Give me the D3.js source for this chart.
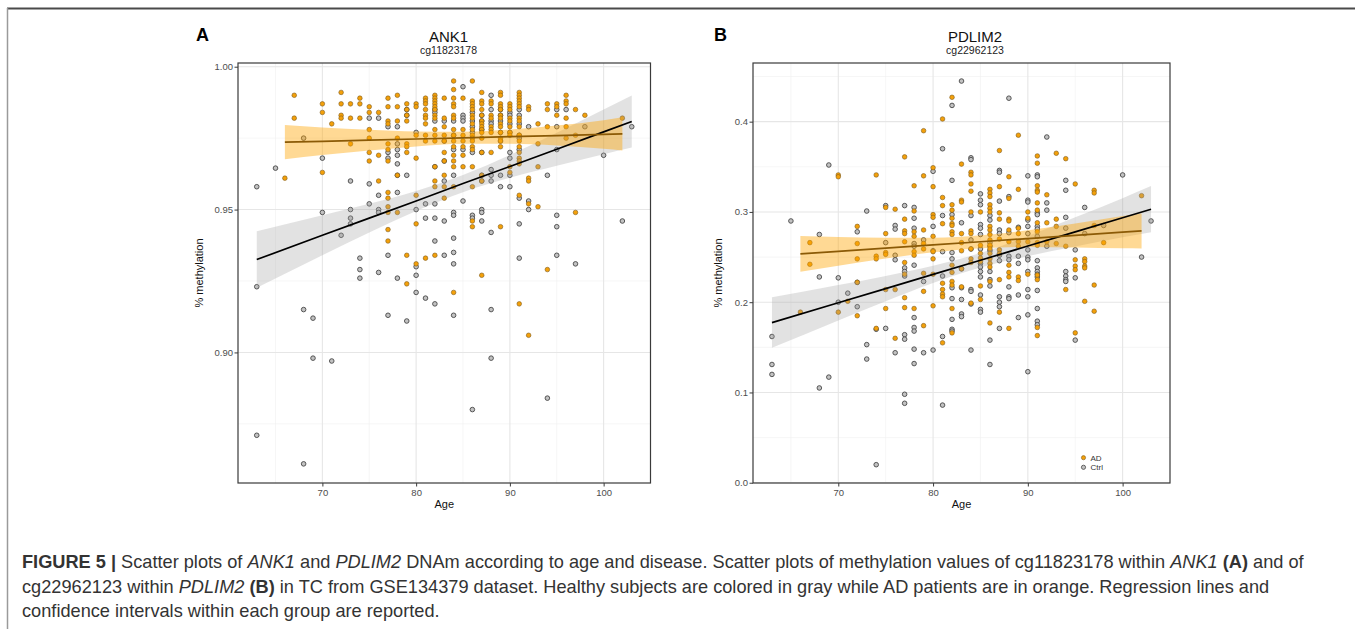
<!DOCTYPE html>
<html>
<head>
<meta charset="utf-8">
<script src="https://cdn.jsdelivr.net/npm/d3@7"></script>
<style>
  body { margin: 0; background: #fff; }
  text { font-family: "Liberation Sans", Arial, Helvetica, sans-serif; }
</style>
</head>
<body>
<script>
// ---- data ----
// panel A: ANK1 cg11823178, [age, methylation]
const ank1AD = [
  [66,.961],[67,.990],[67,.982],[70,.987],[70,.984],[70,.963],[71,.980],
  [72,.991],[72,.987],[72,.983],[72,.982],[73,.987],[73,.982],[73,.973],
  [74,.989],[74,.987],[74,.982],[75,.986],[75,.984],[75,.978],[75,.975],[75,.970],[75,.967],
  [76,.984],[76,.969],[76,.960],
  [77,.989],[77,.986],[77,.981],[77,.980],[77,.973],[77,.971],[77,.967],[77,.956],[77,.954],[77,.951],[77,.949],[77,.943],[77,.939],
  [78,.990],[78,.986],[78,.981],[78,.975],[78,.962],[78,.949],
  [79,.987],[79,.985],[79,.983],[79,.981],[79,.973],[79,.972],[79,.970],[79,.934],[79,.924],
  [80,.987],[80,.986],[80,.976],[80,.968],[80,.955],[80,.945],[80,.931],
  [81,.989],[81,.988],[81,.987],[81,.985],[81,.983],[81,.982],[81,.980],[81,.976],[81,.974],[81,.933],
  [82,.990],[82,.989],[82,.988],[82,.987],[82,.986],[82,.985],[82,.983],[82,.982],[82,.978],[82,.976],[82,.974],[82,.965],[82,.960],[82,.958],[82,.934],
  [83,.989],[83,.982],[83,.979],[83,.976],[83,.974],[83,.970],[83,.967],[83,.962],[83,.958],[83,.954],
  [84,.995],[84,.992],[84,.989],[84,.987],[84,.986],[84,.983],[84,.982],[84,.978],[84,.976],[84,.974],[84,.972],[84,.969],[84,.967],[84,.965],[84,.958],[84,.921],
  [85,.989],[85,.978],[85,.976],[85,.974],[85,.972],[85,.969],[85,.965],
  [86,.995],[86,.988],[86,.987],[86,.986],[86,.985],[86,.983],[86,.982],[86,.980],[86,.978],[86,.976],[86,.975],[86,.974],[86,.972],[86,.971],[86,.965],[86,.958],[86,.946],[86,.944],
  [87,.991],[87,.988],[87,.987],[87,.985],[87,.983],[87,.981],[87,.980],[87,.979],[87,.978],[87,.977],[87,.975],[87,.970],[87,.962],[87,.960],[87,.927],
  [88,.988],[88,.987],[88,.983],[88,.982],[88,.979],[88,.978],[88,.977],[88,.970],
  [89,.991],[89,.990],[89,.987],[89,.986],[89,.985],[89,.983],[89,.982],[89,.980],[89,.979],[89,.977],[89,.975],[89,.974],[89,.972],[89,.944],
  [90,.987],[90,.986],[90,.985],[90,.982],[90,.981],[90,.979],[90,.977],[90,.976],[90,.965],[90,.963],
  [91,.991],[91,.990],[91,.989],[91,.988],[91,.987],[91,.986],[91,.982],[91,.981],[91,.979],[91,.976],[91,.974],[91,.972],[91,.970],[91,.968],[91,.967],[91,.966],[91,.955],[91,.917],
  [92,.986],[92,.985],[92,.961],[92,.960],[92,.952],[92,.906],
  [93,.980],[93,.973],[93,.965],[93,.951],
  [94,.987],[94,.985],[94,.979],[94,.929],
  [95,.987],[95,.986],[95,.983],
  [96,.990],[96,.988],[96,.987],[96,.982],[96,.979],[96,.975],
  [97,.985],[97,.976],[97,.949],[98,.983],[102,.982]
];
const ank1Ctrl = [
  [63,.958],[63,.923],[63,.871],[65,.9645],[68,.975],[68,.915],[68,.861],[69,.912],[69,.898],
  [70,.968],[70,.949],[71,.897],[72,.941],[73,.960],[73,.950],[73,.947],[73,.945],
  [74,.933],[74,.929],[74,.926],[75,.982],[75,.959],[75,.952],
  [76,.982],[76,.955],[76,.950],[76,.949],[76,.928],
  [77,.979],[77,.970],[77,.968],[77,.934],[77,.913],
  [78,.979],[78,.973],[78,.971],[78,.969],[78,.966],[78,.962],[78,.956],[78,.926],
  [79,.985],[79,.983],[79,.962],[79,.911],
  [80,.977],[80,.950],[80,.930],[80,.927],[80,.921],
  [81,.952],[81,.947],[81,.919],
  [82,.985],[82,.984],[82,.981],[82,.965],[82,.952],[82,.947],[82,.939],[82,.917],
  [83,.981],[83,.974],[83,.967],[83,.960],[83,.946],[83,.934],
  [84,.981],[84,.976],[84,.971],[84,.962],[84,.949],[84,.948],[84,.940],[84,.935],[84,.931],[84,.913],
  [85,.993],[85,.983],[85,.982],[85,.981],[85,.971],[85,.953],
  [86,.984],[86,.981],[86,.979],[86,.977],[86,.970],[86,.948],[86,.947],[86,.880],
  [87,.983],[87,.981],[87,.978],[87,.970],[87,.962],[87,.960],[87,.950],[87,.949],[87,.946],
  [88,.990],[88,.985],[88,.981],[88,.980],[88,.964],[88,.962],[88,.960],[88,.942],[88,.915],[88,.898],
  [89,.985],[89,.983],[89,.981],[89,.977],[89,.974],[89,.962],[89,.958],
  [90,.984],[90,.983],[90,.980],[90,.977],[90,.970],[90,.968],[90,.962],[90,.958],
  [91,.985],[91,.983],[91,.980],[91,.976],[91,.975],[91,.971],[91,.954],[91,.945],[91,.933],
  [92,.979],[92,.953],[92,.950],[94,.962],[94,.884],
  [95,.985],[95,.979],[95,.971],[95,.948],[95,.944],[95,.934],
  [96,.985],[97,.931],[98,.979],[100,.969],[102,.946],[103,.979]
];

// panel B: PDLIM2 cg22962123
const pdlim2AD = [
  [66,.189],[67,.266],[67,.242],[70,.341],[70,.339],[70,.189],[71,.201],
  [72,.284],[72,.265],[72,.248],[72,.222],[72,.185],
  [74,.341],[74,.251],[74,.248],[74,.171],
  [75,.305],[75,.276],[75,.255],[75,.253],[75,.214],[75,.193],
  [76,.303],[76,.214],[76,.160],
  [77,.361],[77,.292],[77,.279],[77,.276],[77,.267],[77,.244],[77,.231],[77,.205],[77,.194],
  [78,.329],[78,.301],[78,.278],[78,.273],[78,.256],[78,.252],[78,.193],
  [79,.390],[79,.340],[79,.280],[79,.265],[79,.259],[79,.232],[79,.212],[79,.174],
  [80,.349],[80,.328],[80,.297],[80,.294],[80,.273],[80,.256],[80,.248],[80,.231],[80,.196],
  [81,.403],[81,.316],[81,.307],[81,.287],[81,.221],[81,.214],[81,.209],[81,.206],[81,.155],
  [82,.427],[82,.308],[82,.302],[82,.293],[82,.287],[82,.285],[82,.278],[82,.275],[82,.241],[82,.233],[82,.223],[82,.219],[82,.193],[82,.166],
  [83,.353],[83,.313],[83,.311],[83,.276],[83,.266],[83,.257],[83,.237],[83,.217],
  [84,.344],[84,.341],[84,.331],[84,.323],[84,.300],[84,.279],[84,.276],[84,.259],[84,.248],[84,.244],[84,.199],
  [85,.300],[85,.263],[85,.254],[85,.249],[85,.245],[85,.218],[85,.203],
  [86,.325],[86,.321],[86,.317],[86,.308],[86,.304],[86,.300],[86,.284],[86,.280],[86,.275],[86,.269],[86,.263],[86,.259],[86,.254],[86,.248],[86,.243],[86,.239],[86,.223],[86,.177],
  [87,.368],[87,.328],[87,.299],[87,.292],[87,.270],[87,.258],[87,.254],[87,.225],[87,.189],
  [88,.339],[88,.315],[88,.292],[88,.290],[88,.280],[88,.267],[88,.241],[88,.233],[88,.228],[88,.171],
  [89,.385],[89,.325],[89,.282],[89,.276],[89,.267],[89,.262],[89,.228],[89,.224],
  [90,.300],[90,.293],[90,.267],[90,.231],
  [91,.362],[91,.354],[91,.329],[91,.324],[91,.322],[91,.310],[91,.302],[91,.288],[91,.278],[91,.266],[91,.263],[91,.230],[91,.225],[91,.172],[91,.163],
  [92,.319],[92,.288],[92,.267],[93,.365],[93,.292],[93,.284],[93,.265],
  [94,.359],[94,.262],[94,.214],[95,.331],[95,.247],[95,.240],[95,.236],[95,.166],
  [96,.248],[96,.245],[96,.240],[96,.238],[96,.201],
  [97,.324],[97,.321],[97,.285],[97,.219],[97,.190],[98,.266],[102,.318]
];
const pdlim2Ctrl = [
  [63,.162],[63,.131],[63,.120],[65,.290],[68,.275],[68,.228],[68,.105],[69,.352],[69,.117],
  [70,.227],[70,.200],[71,.210],[72,.278],[72,.222],[72,.195],[73,.301],[73,.153],[73,.137],
  [74,.170],[74,.020],[75,.307],[75,.266],[75,.171],
  [76,.285],[76,.281],[76,.252],[76,.247],[76,.144],
  [77,.307],[77,.238],[77,.234],[77,.229],[77,.164],[77,.159],[77,.098],[77,.088],
  [78,.305],[78,.293],[78,.282],[78,.265],[78,.262],[78,.241],[78,.183],[78,.172],[78,.168],[78,.148],[78,.132],
  [79,.269],[79,.223],[79,.144],[80,.345],[80,.284],[80,.257],[80,.147],
  [81,.370],[81,.296],[81,.256],[81,.229],[81,.162],[81,.086],
  [82,.418],[82,.335],[82,.297],[82,.255],[82,.248],[82,.216],[82,.204],[82,.181],[82,.170],[82,.168],
  [83,.445],[83,.288],[83,.237],[83,.216],[83,.203],[83,.187],[83,.184],
  [84,.360],[84,.358],[84,.296],[84,.269],[84,.259],[84,.214],[84,.212],[84,.198],[84,.147],
  [85,.320],[85,.313],[85,.308],[85,.286],[85,.282],[85,.275],[85,.259],[85,.243],[85,.239],[85,.234],[85,.228],[85,.208],[85,.192],[85,.189],
  [86,.296],[86,.291],[86,.266],[86,.262],[86,.257],[86,.234],[86,.225],[86,.218],[86,.158],[86,.131],
  [87,.346],[87,.344],[87,.312],[87,.280],[87,.276],[87,.252],[87,.246],[87,.206],[87,.200],[87,.195],[87,.171],
  [88,.426],[88,.317],[88,.277],[88,.251],[88,.247],[88,.217],[88,.206],[88,.204],
  [89,.283],[89,.251],[89,.243],[89,.208],[89,.183],
  [90,.340],[90,.313],[90,.311],[90,.291],[90,.284],[90,.276],[90,.258],[90,.250],[90,.247],[90,.234],[90,.214],[90,.206],[90,.186],[90,.123],
  [91,.341],[91,.339],[91,.299],[91,.297],[91,.284],[91,.281],[91,.273],[91,.246],[91,.238],[91,.234],[91,.231],[91,.228],[91,.213],[91,.193],[91,.179],[91,.175],
  [92,.383],[92,.310],[92,.302],[92,.262],
  [94,.335],[94,.324],[94,.294],[94,.282],[94,.234],[94,.229],[94,.225],[94,.223],
  [95,.258],[95,.227],[95,.158],[96,.305],[96,.276],[98,.285],[100,.341],[102,.250],[103,.290]
];

// regression fits and confidence bands (read at a few ages)
const ank1AdFitAge = [66, 70, 75, 80, 85, 90, 95, 100, 102];
const ank1AdFit = [0.9736, 0.9739, 0.9743, 0.9747, 0.9751, 0.9755, 0.9759, 0.9763, 0.9765];
const ank1AdLo  = [0.9676, 0.9691, 0.9707, 0.9721, 0.9730, 0.9730, 0.9724, 0.9713, 0.9707];
const ank1AdHi  = [0.9796, 0.9787, 0.9779, 0.9773, 0.9772, 0.9780, 0.9794, 0.9813, 0.9823];

const ank1CtrlFitAge = [63, 70, 75, 80, 85, 90, 95, 100, 103];
const ank1CtrlFit = [0.9325, 0.9410, 0.9470, 0.9530, 0.9591, 0.9651, 0.9711, 0.9772, 0.9808];
const ank1CtrlLo  = [0.9226, 0.9340, 0.9420, 0.9495, 0.9561, 0.9611, 0.9653, 0.9694, 0.9717];
const ank1CtrlHi  = [0.9424, 0.9480, 0.9520, 0.9565, 0.9621, 0.9691, 0.9769, 0.9850, 0.9899];

const pdlim2AdFitAge = [66, 70, 75, 80, 85, 90, 95, 100, 102];
const pdlim2AdFit = [0.2535, 0.2563, 0.2599, 0.2634, 0.2670, 0.2705, 0.2740, 0.2776, 0.2790];
const pdlim2AdLo  = [0.2337, 0.2403, 0.2483, 0.2553, 0.2599, 0.2612, 0.2607, 0.2597, 0.2596];
const pdlim2AdHi  = [0.2733, 0.2723, 0.2715, 0.2715, 0.2741, 0.2798, 0.2873, 0.2955, 0.2984];

const pdlim2CtrlFitAge = [63, 70, 75, 80, 85, 90, 95, 100, 103];
const pdlim2CtrlFit = [0.1774, 0.1994, 0.2151, 0.2308, 0.2465, 0.2622, 0.2779, 0.2936, 0.3030];
const pdlim2CtrlLo  = [0.1494, 0.1798, 0.2011, 0.2213, 0.2384, 0.2510, 0.2617, 0.2719, 0.2774];
const pdlim2CtrlHi  = [0.2054, 0.2190, 0.2291, 0.2403, 0.2546, 0.2734, 0.2941, 0.3153, 0.3286];

// axis breaks
const ageTicks = [70, 80, 90, 100];
const ageMinor = [65, 75, 85, 95];
const ank1Ticks = [0.90, 0.95, 1.00];
const ank1Minor = [0.875, 0.925, 0.975];
const pdlim2Ticks = [0.0, 0.1, 0.2, 0.3, 0.4];
const pdlim2Minor = [0.05, 0.15, 0.25, 0.35, 0.45];

const legendLabels = ["AD", "Ctrl"];

// ---- styles ----
const W = 1355, H = 629;
const adFill = "#f3a00a", adStroke = "#7d5a1c";
const ctrlFill = "#c2c2c2", ctrlStroke = "#474747";
const adLine = "#8b5a06";
const ptR = 2.3;

const svg = d3.select("body").append("svg")
  .attr("width", W)
  .attr("height", H);

svg.append("rect").attr("width", W).attr("height", H).attr("fill", "#fff");

// frame of the figure box
svg.append("line").attr("x1", 7).attr("x2", W).attr("y1", 8.5).attr("y2", 8.5)
  .attr("stroke", "#4a4a4a").attr("stroke-width", 2);
svg.append("line").attr("x1", 7.5).attr("x2", 7.5).attr("y1", 8).attr("y2", H)
  .attr("stroke", "#9a9a9a").attr("stroke-width", 1.5);

function drawPanel(p) {
  const x = d3.scaleLinear().domain([61, 105]).range([p.left, p.right]);
  const y = d3.scaleLinear().domain(p.yDomain).range([483, 63]);
  const g = svg.append("g");

  // grid
  const grid = g.append("g");
  grid.selectAll(".vminor").data(ageMinor).enter().append("line")
    .attr("x1", d => x(d)).attr("x2", d => x(d)).attr("y1", 63).attr("y2", 483)
    .attr("stroke", "#f0f0f0").attr("stroke-width", 0.6);
  grid.selectAll(".hminor").data(p.yMinor.filter(v => y(v) > 63 && y(v) < 483)).enter().append("line")
    .attr("x1", p.left).attr("x2", p.right).attr("y1", d => y(d)).attr("y2", d => y(d))
    .attr("stroke", "#f0f0f0").attr("stroke-width", 0.6);
  grid.selectAll(".vmajor").data(ageTicks).enter().append("line")
    .attr("x1", d => x(d)).attr("x2", d => x(d)).attr("y1", 63).attr("y2", 483)
    .attr("stroke", "#e6e6e6").attr("stroke-width", 1.1);
  grid.selectAll(".hmajor").data(p.yTicks).enter().append("line")
    .attr("x1", p.left).attr("x2", p.right).attr("y1", d => y(d)).attr("y2", d => y(d))
    .attr("stroke", "#e6e6e6").attr("stroke-width", 1.1);

  // points
  g.append("g").selectAll("circle").data(p.ctrl).enter().append("circle")
    .attr("cx", d => x(d[0])).attr("cy", d => y(d[1])).attr("r", ptR)
    .attr("fill", ctrlFill).attr("stroke", ctrlStroke).attr("stroke-width", 0.9);
  g.append("g").selectAll("circle").data(p.ad).enter().append("circle")
    .attr("cx", d => x(d[0])).attr("cy", d => y(d[1])).attr("r", ptR)
    .attr("fill", adFill).attr("stroke", adStroke).attr("stroke-width", 0.6);

  // confidence bands and fitted lines
  const fits = [
    { age: p.ctrlAge, fit: p.ctrlFit, lo: p.ctrlLo, hi: p.ctrlHi, band: "#9e9e9e", bandOp: 0.3, line: "#000" },
    { age: p.adAge, fit: p.adFit, lo: p.adLo, hi: p.adHi, band: "#ffa500", bandOp: 0.42, line: adLine }
  ];
  fits.forEach(f => {
    const rows = f.age.map((a, i) => ({ a: a, fit: f.fit[i], lo: f.lo[i], hi: f.hi[i] }));
    const area = d3.area().curve(d3.curveMonotoneX)
      .x(d => x(d.a)).y0(d => y(d.lo)).y1(d => y(d.hi));
    g.append("path").datum(rows).attr("d", area)
      .attr("fill", f.band).attr("fill-opacity", f.bandOp);
  });
  fits.forEach(f => {
    const rows = f.age.map((a, i) => ({ a: a, fit: f.fit[i] }));
    const line = d3.line().x(d => x(d.a)).y(d => y(d.fit));
    g.append("path").datum(rows).attr("d", line)
      .attr("fill", "none").attr("stroke", f.line).attr("stroke-width", 1.7);
  });

  // border
  g.append("rect").attr("x", p.left).attr("y", 63)
    .attr("width", p.right - p.left).attr("height", 420)
    .attr("fill", "none").attr("stroke", "#3a3a3a").attr("stroke-width", 1.2);

  // axes
  const xAxis = g.append("g").attr("transform", `translate(0,483)`)
    .call(d3.axisBottom(x).tickValues(ageTicks).tickSize(3.5).tickPadding(3).tickFormat(d3.format("d")));
  const yAxis = g.append("g").attr("transform", `translate(${p.left},0)`)
    .call(d3.axisLeft(y).tickValues(p.yTicks).tickSize(3.5).tickPadding(1.5).tickFormat(d3.format(p.yFmt)));
  [xAxis, yAxis].forEach(a => {
    a.select(".domain").remove();
    a.selectAll(".tick line").attr("stroke", "#3a3a3a").attr("stroke-width", 1);
    a.selectAll(".tick text").attr("fill", "#4d4d4d").style("font-size", "9.5px")
      .style("font-family", '"Liberation Sans", Arial, sans-serif');
  });

  // titles
  g.append("text").attr("x", p.titleX).attr("y", 42).attr("text-anchor", "middle")
    .style("font-size", "15px").attr("fill", "#111").text(p.title);
  g.append("text").attr("x", p.titleX).attr("y", 53.5).attr("text-anchor", "middle")
    .style("font-size", "10.5px").attr("fill", "#222").text(p.subtitle);
  g.append("text").attr("x", p.letterX).attr("y", 40.5)
    .style("font-size", "18px").style("font-weight", "bold").attr("fill", "#000").text(p.letter);
  g.append("text").attr("x", (p.left + p.right) / 2).attr("y", 507.5).attr("text-anchor", "middle")
    .style("font-size", "11px").attr("fill", "#111").text("Age");
  g.append("text")
    .attr("transform", `translate(${p.yTitleX},273) rotate(-90)`)
    .attr("text-anchor", "middle")
    .style("font-size", "11px").attr("fill", "#111").text("% methylation");

  if (p.legend) {
    const lg = g.append("g").attr("transform", "translate(1083.5,457.7)");
    legendLabels.forEach((lab, i) => {
      lg.append("circle").attr("cx", 0).attr("cy", i * 9.6).attr("r", 2.1)
        .attr("fill", i === 0 ? adFill : ctrlFill)
        .attr("stroke", i === 0 ? adStroke : ctrlStroke).attr("stroke-width", i === 0 ? 0.6 : 0.8);
      lg.append("text").attr("x", 7).attr("y", i * 9.6).attr("dy", "0.35em")
        .style("font-size", "8px").attr("fill", "#333").text(lab);
    });
  }
}

drawPanel({
  left: 238, right: 650.5, yDomain: [0.8543, 1.0013],
  yTicks: ank1Ticks, yMinor: ank1Minor, yFmt: ".2f",
  ad: ank1AD, ctrl: ank1Ctrl,
  adAge: ank1AdFitAge, adFit: ank1AdFit, adLo: ank1AdLo, adHi: ank1AdHi,
  ctrlAge: ank1CtrlFitAge, ctrlFit: ank1CtrlFit, ctrlLo: ank1CtrlLo, ctrlHi: ank1CtrlHi,
  title: "ANK1", subtitle: "cg11823178", titleX: 448.5, letter: "A", letterX: 196, yTitleX: 202.5,
  legend: false
});

drawPanel({
  left: 753, right: 1170, yDomain: [-0.0003, 0.465],
  yTicks: pdlim2Ticks, yMinor: pdlim2Minor, yFmt: ".1f",
  ad: pdlim2AD, ctrl: pdlim2Ctrl,
  adAge: pdlim2AdFitAge, adFit: pdlim2AdFit, adLo: pdlim2AdLo, adHi: pdlim2AdHi,
  ctrlAge: pdlim2CtrlFitAge, ctrlFit: pdlim2CtrlFit, ctrlLo: pdlim2CtrlLo, ctrlHi: pdlim2CtrlHi,
  title: "PDLIM2", subtitle: "cg22962123", titleX: 975, letter: "B", letterX: 714, yTitleX: 721.5,
  legend: true
});

// ---- caption ----
const captionLines = [
  [["FIGURE 5 | ", "b"], ["Scatter plots of ", ""], ["ANK1", "i"], [" and ", ""], ["PDLIM2", "i"],
   [" DNAm according to age and disease. Scatter plots of methylation values of cg11823178 within ", ""],
   ["ANK1", "i"], [" ", ""], ["(A)", "b"], [" and of", ""]],
  [["cg22962123 within ", ""], ["PDLIM2", "i"], [" ", ""], ["(B)", "b"],
   [" in TC from GSE134379 dataset. Healthy subjects are colored in gray while AD patients are in orange. Regression lines and", ""]],
  [["confidence intervals within each group are reported.", ""]]
];
const captionY = [568, 593, 617];

const cap = svg.append("g");
const capTexts = captionLines.map((segs, li) => {
  const t = cap.append("text").attr("x", 22).attr("y", captionY[li])
    .attr("fill", "#333").style("font-size", "16px").attr("xml:space", "preserve");
  segs.forEach(s => {
    t.append("tspan")
      .style("font-weight", s[1] === "b" ? "bold" : "normal")
      .style("font-style", s[1] === "i" ? "italic" : "normal")
      .text(s[0]);
  });
  return t;
});
// fit the first line to its width in the figure
const w0 = capTexts[0].node().getComputedTextLength();
const fs = 16 * 1282 / w0;
capTexts.forEach(t => t.style("font-size", fs + "px"));
</script>
</body>
</html>
